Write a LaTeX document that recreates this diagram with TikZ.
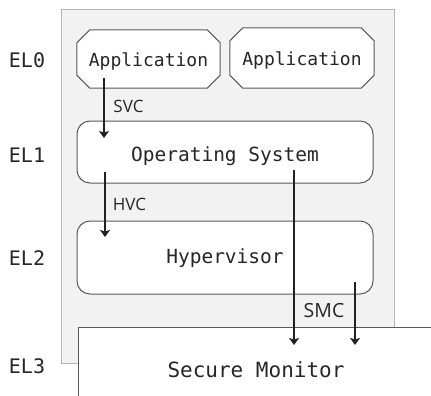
\documentclass[tikz,border=0pt]{standalone}
\usepackage{fontspec}
\setmainfont{DejaVu Sans Mono}
\newfontfamily\lblfont{Open Sans}
\usetikzlibrary{arrows.meta}
\pgfdeclarelayer{back}
\pgfdeclarelayer{mid}
\pgfsetlayers{back,mid,main}
\definecolor{bgfill}{HTML}{F2F2F2}
\definecolor{bgline}{HTML}{B4B4B4}
\definecolor{boxline}{HTML}{5A5A5A}
\definecolor{arrline}{HTML}{222222}
\definecolor{txt}{HTML}{262626}
\tikzset{
  appbox/.style={rectangle, inner sep=0pt, text depth=0pt, text height=15.2pt, text=txt,
    font=\fontsize{18}{21}\selectfont},
  octline/.style={draw=boxline, fill=white, line width=1pt},
  layerbox/.style={rectangle, rounded corners=13pt, draw=boxline, fill=white, line width=1pt,
    inner sep=0pt, minimum width=296pt, text depth=0pt, text=txt, font=\fontsize{19.5}{23}\selectfont},
  ellabel/.style={font=\fontsize{20}{23}\selectfont, text=txt, inner sep=0pt, text depth=0pt, text height=14.6pt},
  calllabel/.style={font=\lblfont\fontsize{17}{20}\selectfont, text=txt, inner sep=0pt, text depth=0pt, text height=12.2pt},
  callarrow/.style={draw=arrline, line width=1.2pt, -{Stealth[width=10pt,length=7pt,inset=1.5pt]}}
}
\newcommand{\octagon}[1]{%
  \draw[octline] ([xshift=13pt]#1.north west) -- ([xshift=-13pt]#1.north east)
    -- ([yshift=-13pt]#1.north east) -- ([yshift=13pt]#1.south east)
    -- ([xshift=-13pt]#1.south east) -- ([xshift=13pt]#1.south west)
    -- ([yshift=13pt]#1.south west) -- ([yshift=-13pt]#1.north west) -- cycle;}
\begin{document}
\begin{tikzpicture}[x=1pt,y=-1pt]
\useasboundingbox (0,0) rectangle (431,396);
\begin{pgfonlayer}{back}
\fill[white] (0,0) rectangle (431,396);
\node[draw=bgline, fill=bgfill, line width=1pt, minimum width=333pt, minimum height=353pt, inner sep=0pt] (bg) at (227.5,186.5) {};
\end{pgfonlayer}
\node[appbox, minimum width=143pt, minimum height=58pt] (app1) at (148.5,59) {Application};
\node[appbox, minimum width=144pt, minimum height=60pt] (app2) at (302,58) {Application};
\begin{pgfonlayer}{mid}
\octagon{app1}
\octagon{app2}
\end{pgfonlayer}
\node[layerbox, minimum height=62pt, text height=19.2pt] (os) at (225,152) {Operating System};
\node[layerbox, minimum height=73pt, text height=12.2pt] (hyp) at (225,257.5) {Hypervisor};
\begin{scope}
\clip (0,0) rectangle (431,396);
\node[draw=boxline, fill=white, line width=1pt, minimum width=356pt, minimum height=86pt, inner sep=0pt,
  text depth=0pt, text height=15.4pt, text=txt, font=\fontsize{21}{25}\selectfont] (sm) at (256,370) {Secure Monitor};
\end{scope}
\node[ellabel] (el0) at (27,60) {EL0};
\node[ellabel] (el1) at (27,155) {EL1};
\node[ellabel] (el2) at (27,258.5) {EL2};
\node[ellabel] (el3) at (27,366.5) {EL3};
\coordinate (svcA) at (104,78);
\coordinate (svcB) at (104,138);
\coordinate (hvcA) at (105,172);
\coordinate (hvcB) at (105,237);
\coordinate (smcA) at (294,170);
\coordinate (smcB) at (294,345);
\coordinate (smcC) at (355,282);
\coordinate (smcD) at (355,345);
\draw[callarrow] (svcA) -- (svcB);
\draw[callarrow] (hvcA) -- (hvcB);
\draw[callarrow] (smcA) -- (smcB);
\draw[callarrow] (smcC) -- (smcD);
\node[calllabel] (svc) at (128.5,106) {SVC};
\node[calllabel] (hvc) at (129.5,204) {HVC};
\node[calllabel, font=\lblfont\fontsize{19.5}{22}\selectfont, text height=13.9pt] (smc) at (324,311) {SMC};
\end{tikzpicture}
\end{document}
